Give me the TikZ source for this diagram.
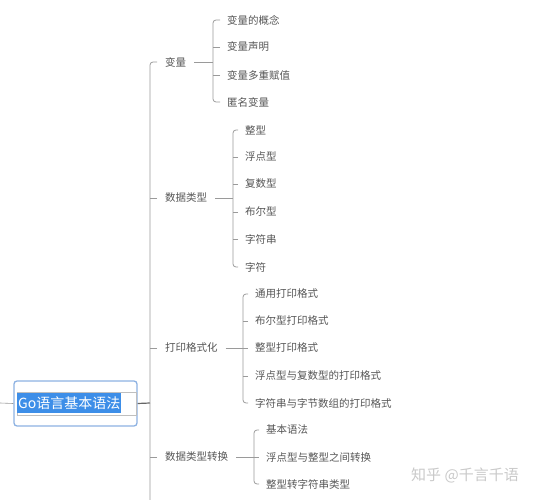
\documentclass[tikz,border=0pt]{standalone}
\usepackage{fontspec}
\setmainfont{Noto Sans CJK SC}
\usepackage{xcolor}
\usetikzlibrary{positioning, calc}
\definecolor{txtgray}{HTML}{555555}
\definecolor{linegray}{HTML}{9A9A9A}
\definecolor{boxblue}{HTML}{8DB2E2}
\definecolor{selblue}{HTML}{3D8EE8}
\definecolor{markgray}{HTML}{C9C9C9}

\begin{document}
\begin{tikzpicture}[x=1pt, y=-1pt,
        link/.style={draw=linegray, line width=0.8pt, rounded corners=3pt},
        branch/.style={anchor=west, text=txtgray, inner xsep=0pt, outer xsep=8pt,
            font=\fontsize{10.5}{12}\selectfont},
        leaf/.style={anchor=west, text=txtgray, inner xsep=0pt, outer xsep=7pt,
            font=\fontsize{10.5}{12}\selectfont}]
    \useasboundingbox (0,0) rectangle (541,500);

    % 中心主题
    \node[draw=boxblue, line width=1.3pt, rounded corners=3pt, fill=white,
          minimum width=123pt, minimum height=45pt, inner sep=0pt] (root) at (75.5,403.5) {};
    \draw[draw=black!25, line width=0.5pt] (17,392) rectangle (136,415);
    \node[anchor=west, fill=selblue, text=white, inner xsep=1pt, inner ysep=0pt,
          minimum height=20pt, font=\fontsize{14}{16}\selectfont] (rootlabel) at (17,403) {Go语言基本语法};
    \coordinate (lead) at (0,403);
    \coordinate (trunk) at (150,403);
    \coordinate (trunkend) at (150,500);
    \draw[draw=linegray, line width=0.6pt] (lead) -- (root.west);
    \draw[draw=black!60, line width=1.2pt] (root.east) -- (trunk);

    % 一级分支
    \node[branch] (var) at (157,62) {变量};
    \node[branch] (dtype) at (157,198) {数据类型};
    \node[branch] (fmt) at (157,348) {打印格式化};
    \node[branch] (conv) at (157,457) {数据类型转换};
    \draw[link] (var.west) -| (trunkend);
    \foreach \b in {dtype, fmt, conv}
        \draw[link] (\b.west) -- (\b.west -| trunk);

    % 变量
    \coordinate (svar) at (213,62);
    \node[leaf] (v1) at (220,20) {变量的概念};
    \node[leaf] (v2) at (220,47) {变量声明};
    \node[leaf] (v3) at (220,75) {变量多重赋值};
    \node[leaf] (v4) at (220,102) {匿名变量};
    \draw[link] (var.east) -- (svar);
    \draw[link] (v1.west) -| (svar) |- (v4.west);
    \foreach \n in {v2, v3}
        \draw[link] (\n.west) -- (\n.west -| svar);

    % 数据类型
    \coordinate (sdtype) at (233,198);
    \node[leaf] (d1) at (238,130) {整型};
    \node[leaf] (d2) at (238,157) {浮点型};
    \node[leaf] (d3) at (238,184) {复数型};
    \node[leaf] (d4) at (238,212) {布尔型};
    \node[leaf] (d5) at (238,239) {字符串};
    \node[leaf] (d6) at (238,267) {字符};
    \draw[link] (dtype.east) -- (sdtype);
    \draw[link] (d1.west) -| (sdtype) |- (d6.west);
    \foreach \n in {d2, d3, d4, d5}
        \draw[link] (\n.west) -- (\n.west -| sdtype);

    % 打印格式化
    \coordinate (sfmt) at (243,348);
    \node[leaf] (f1) at (248,294) {通用打印格式};
    \node[leaf] (f2) at (248,321) {布尔型打印格式};
    \node[leaf] (f3) at (248,348) {整型打印格式};
    \node[leaf] (f4) at (248,376) {浮点型与复数型的打印格式};
    \node[leaf] (f5) at (248,403) {字符串与字节数组的打印格式};
    \draw[link] (fmt.east) -- (sfmt);
    \draw[link] (f1.west) -| (sfmt) |- (f5.west);
    \foreach \n in {f2, f4}
        \draw[link] (\n.west) -- (\n.west -| sfmt);
    \draw[link] (sfmt) -- (f3.west);

    % 数据类型转换
    \coordinate (sconv) at (254,457);
    \node[leaf] (c1) at (259,430) {基本语法};
    \node[leaf] (c2) at (259,457) {浮点型与整型之间转换};
    \node[leaf] (c3) at (259,484) {整型转字符串类型};
    \draw[link] (conv.east) -- (sconv);
    \draw[link] (c1.west) -| (sconv) |- (c3.west);
    \draw[link] (sconv) -- (c2.west);

    % 水印
    \node[anchor=west, text=markgray, inner sep=0pt,
          font=\fontsize{15}{17}\selectfont] (mark) at (411,475) {知乎 @千言千语};
\end{tikzpicture}
\end{document}
